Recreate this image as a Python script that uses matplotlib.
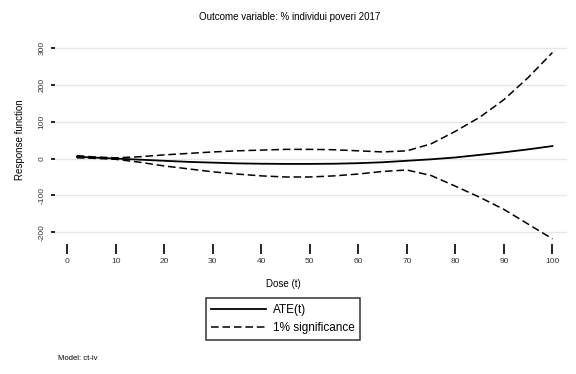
import numpy as np
import matplotlib.pyplot as plt

plt.rcParams['font.family'] = ['Liberation Sans', 'DejaVu Sans']

dose = [2, 5, 10, 15, 20, 25, 30, 35, 40, 45, 50, 55, 60, 65, 70, 75, 80, 85, 90, 95, 100]
ate = [5, 3, 0, -3, -6, -9, -11, -13, -14, -14.5, -14.5, -14, -12.5, -10, -6, -2, 3, 10, 17, 25, 34]
upper = [8, 5, 2, 5, 10, 14, 18, 21, 23, 25, 25, 24, 21, 18, 21, 40, 74, 112, 160, 220, 288]
lower = [2, 1, -2, -10, -20, -28, -36, -42, -47, -50, -50, -47, -42, -35, -31, -46, -75, -105, -138, -178, -218]

xticks = list(range(0, 101, 10))
yticks = [-200, -100, 0, 100, 200, 300]

fig = plt.figure(figsize=(5.76, 3.74), dpi=100)
fig.patch.set_facecolor("white")
ax = fig.add_axes([55/576, 1-244/374, 512/576, 204/374])

ax.plot(dose, ate, color="black", linewidth=1.3, label="ATE(t)")
ax.plot(dose, upper, color="black", linewidth=1.1, linestyle=(0, (5, 2.5)),
        label="1% significance")
ax.plot(dose, lower, color="black", linewidth=1.1, linestyle=(0, (5, 2.5)))

ax.set_xlim(-2.5, 103)
ax.set_ylim(-232, 322)
ax.set_xticks(xticks)
ax.set_yticks(yticks)
ax.set_yticklabels([str(v) for v in yticks], rotation=90, va="center")
ax.tick_params(axis="x", length=7, width=1.2, pad=3, labelsize=6,
               labelcolor="#333333", direction="out")
ax.tick_params(axis="y", length=3, width=1.2, pad=4, labelsize=6,
               labelcolor="#333333", direction="out")
for s in ax.spines.values():
    s.set_visible(False)
ax.yaxis.grid(True, color="#e6e6e6", linewidth=0.9)
ax.set_axisbelow(True)

fig.text(283/576, 1-284/374, "Dose (t)", ha="center", va="center", fontsize=7)
fig.text(20/576, 1-140/374, "Response function", ha="center", va="center",
         rotation=90, fontsize=7)
fig.text(290/576, 1-17/374, "Outcome variable: % individui poveri 2017",
         ha="center", va="center", fontsize=7)
fig.text(58/576, 1-358/374, "Model: ct-iv", ha="left", va="center", fontsize=5.5)

leg = fig.legend(loc="center", bbox_to_anchor=(283/576, 1-319/374),
                 fontsize=8.5, frameon=True, fancybox=False, handlelength=4.6,
                 borderpad=0.5, labelspacing=0.45, handletextpad=0.6,
                 borderaxespad=0)
leg.get_frame().set_edgecolor("black")
leg.get_frame().set_linewidth(1.1)

fig.savefig("out.png", dpi=100, facecolor="white")
